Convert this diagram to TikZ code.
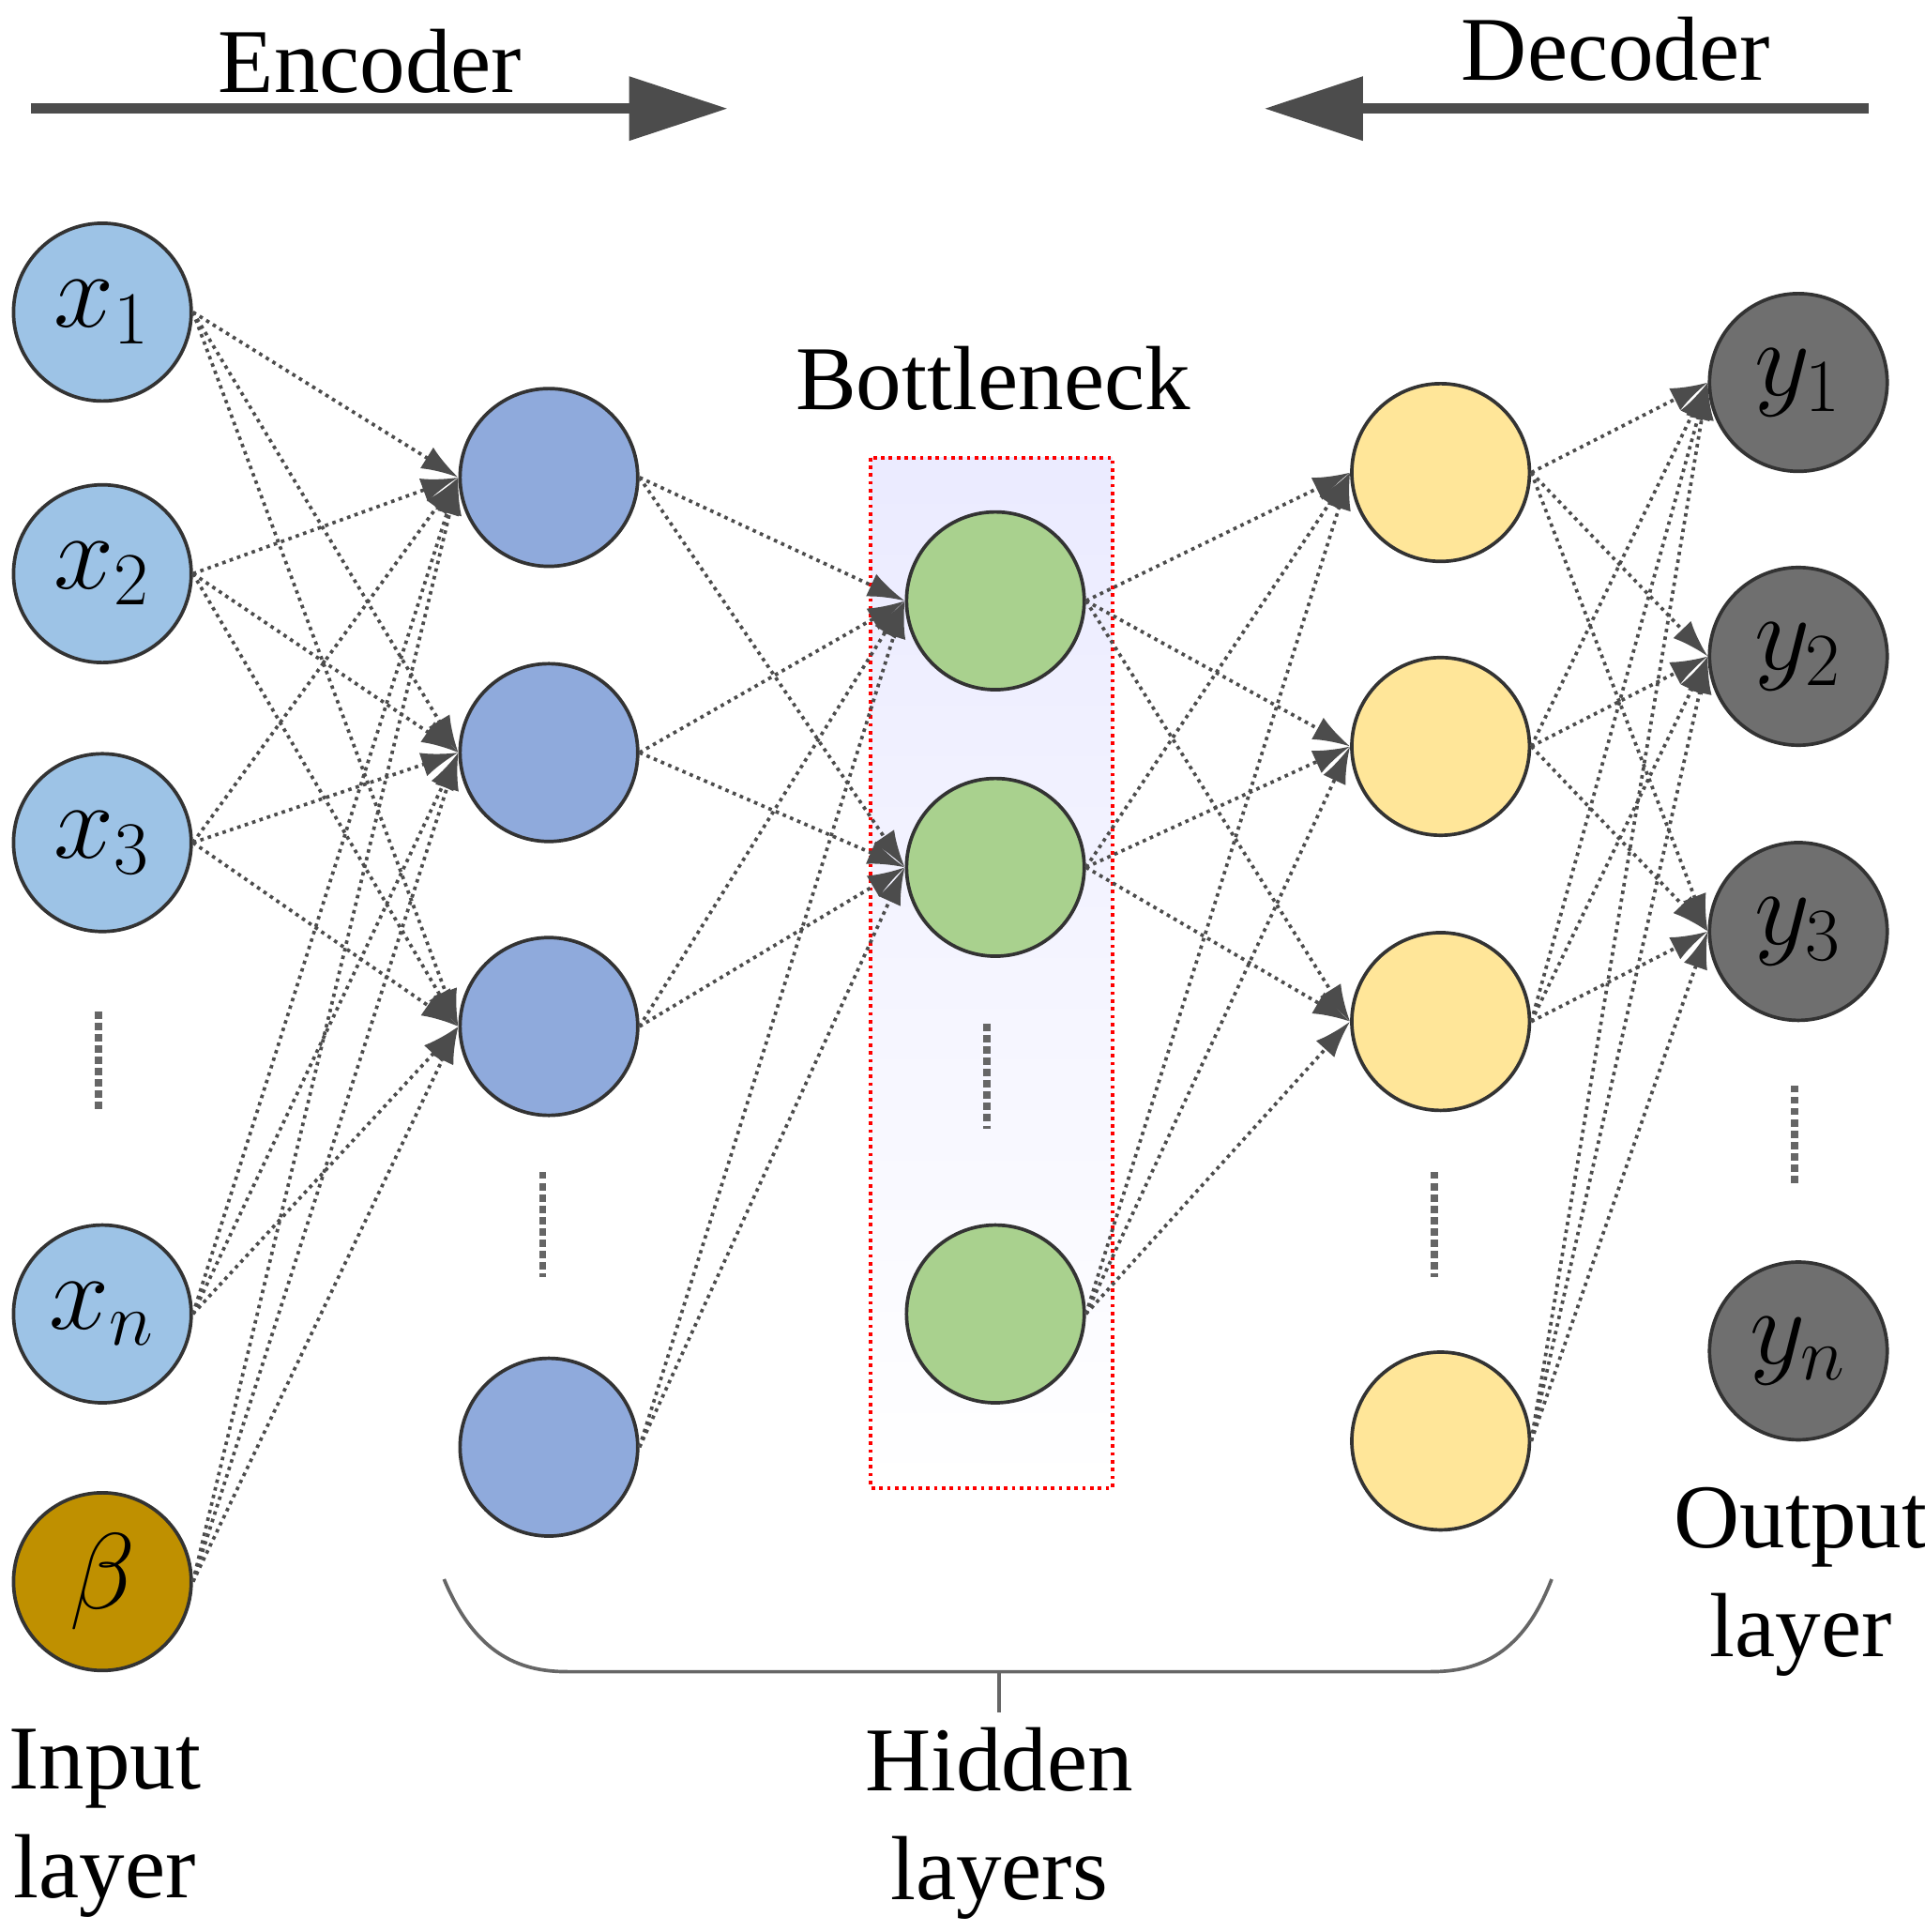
\documentclass[tikz,border=0pt]{standalone}
\usepackage{fontspec}
\setmainfont{Liberation Serif}
\usetikzlibrary{arrows.meta, positioning, calc}
\definecolor{inblue}{HTML}{9DC3E6}
\definecolor{hidblue}{HTML}{8FAADC}
\definecolor{botgreen}{HTML}{A9D18E}
\definecolor{decyellow}{HTML}{FFE699}
\definecolor{outgray}{HTML}{6F6F6F}
\definecolor{biasgold}{HTML}{BF9000}
\begin{document}
\begin{tikzpicture}[
    x=0.01cm, y=-0.01cm,
    neuron/.style={circle, draw=black!80, thick, minimum size=1.44cm, inner sep=0pt, font=\fontsize{24}{26}\selectfont},
    link/.style={densely dotted, draw=black!70, thick, -{Latex[length=3mm,width=2mm]}},
    dots/.style={densely dotted, line width=1.6pt, draw=black!60},
    label/.style={font=\fontsize{21}{25}\selectfont, align=center},
    bigarrow/.style={line width=2.4pt, draw=black!70, -{Triangle[length=8mm,width=5mm]}}
]
    \useasboundingbox (0,0) rectangle (1560,1566);

    % bottleneck box
    \shade[top color=blue!8, bottom color=white] (706,371) rectangle (902,1206);
    \draw[red, densely dotted, thick] (706,371) rectangle (902,1206);
    \node[label] (bneck) at (805,307) {Bottleneck};

    % input layer
    \node[neuron, fill=inblue] (i1) at (83,253) {$x_1$};
    \node[neuron, fill=inblue] (i2) at (83,465) {$x_2$};
    \node[neuron, fill=inblue] (i3) at (83,683) {$x_3$};
    \node[neuron, fill=inblue] (i4) at (83,1065) {$x_n$};
    \node[neuron, fill=biasgold] (i5) at (83,1282) {$\beta$};

    % hidden layers
    \foreach \y [count=\k] in {387,610,832,1173}
        \node[neuron, fill=hidblue] (a\k) at (445,\y) {};
    \foreach \y [count=\k] in {487,703,1065}
        \node[neuron, fill=botgreen] (b\k) at (807,\y) {};
    \foreach \y [count=\k] in {383,605,828,1168}
        \node[neuron, fill=decyellow] (c\k) at (1168,\y) {};

    % output layer
    \node[neuron, fill=outgray] (o1) at (1458,310) {$y_1$};
    \node[neuron, fill=outgray] (o2) at (1458,532) {$y_2$};
    \node[neuron, fill=outgray] (o3) at (1458,755) {$y_3$};
    \node[neuron, fill=outgray] (o4) at (1458,1095) {$y_n$};

    % vertical dots
    \draw[dots] (80,820) -- (80,900);
    \draw[dots] (440,950) -- (440,1035);
    \draw[dots] (800,830) -- (800,915);
    \draw[dots] (1163,950) -- (1163,1035);
    \draw[dots] (1455,880) -- (1455,960);

    % connections
    \foreach \s in {1,...,5}
        \foreach \t in {1,2,3}
            \draw[link] (i\s.east) -- (a\t.west);
    \foreach \s in {1,...,4}
        \foreach \t in {1,2}
            \draw[link] (a\s.east) -- (b\t.west);
    \foreach \s in {1,2,3}
        \foreach \t in {1,2,3}
            \draw[link] (b\s.east) -- (c\t.west);
    \foreach \s in {1,...,4}
        \foreach \t in {1,2,3}
            \draw[link] (c\s.east) -- (o\t.west);

    % encoder / decoder
    \node[label] (enc) at (300,50) {Encoder};
    \node[label] (dec) at (1310,40) {Decoder};
    \coordinate (encs) at (25,88);
    \coordinate (ence) at (590,88);
    \coordinate (decs) at (1515,88);
    \coordinate (dece) at (1025,88);
    \draw[bigarrow] (encs) -- (ence);
    \draw[bigarrow] (decs) -- (dece);

    % brace under hidden layers
    \coordinate (bl) at (360,1280);
    \coordinate (br) at (1258,1280);
    \coordinate (bm) at (810,1355);
    \node[label] (hid) at (810,1478) {Hidden\\layers};
    \draw[black!60, thick] (bl) .. controls (385,1340) and (420,1355) .. (460,1355)
        -- (1160,1355) .. controls (1200,1355) and (1235,1340) .. (br);
    \draw[black!60, thick] (bm) -- (hid.north);

    \node[label] (inl) at (85,1478) {Input\\layer};
    \node[label] (outl) at (1460,1282) {Output\\layer};
\end{tikzpicture}
\end{document}
